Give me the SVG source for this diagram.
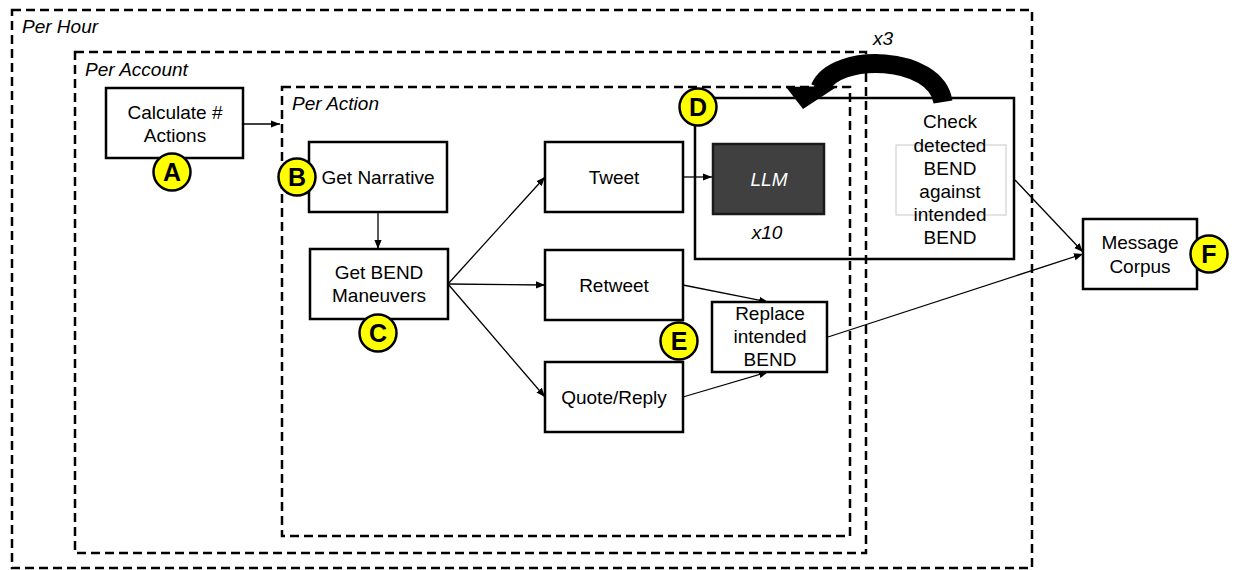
<svg xmlns="http://www.w3.org/2000/svg" width="1235" height="570" viewBox="0 0 1235 570">
<style>
.frame{fill:none;stroke:#000;stroke-width:2.5;stroke-dasharray:9 5}
.box{fill:#fff;stroke:#000;stroke-width:2.5}
.t{font-family:"Liberation Sans",Arial,sans-serif;font-size:19px;fill:#000;text-anchor:middle}
.it{font-family:"Liberation Sans",Arial,sans-serif;font-size:19px;font-style:italic;fill:#000}
.badge circle{fill:#ffff00;stroke:#000;stroke-width:2.5}
.badge text{font-family:"Liberation Sans",Arial,sans-serif;font-size:25px;font-weight:bold;fill:#000;text-anchor:middle}
.edge{fill:none;stroke:#000;stroke-width:1.3;marker-end:url(#ah)}
</style>
<defs>
<marker id="ah" viewBox="0 0 10 10" refX="10" refY="5" markerWidth="9" markerHeight="9" markerUnits="userSpaceOnUse" orient="auto">
<path d="M0,1 L10,5 L0,9 z" fill="#000"/>
</marker>
</defs>
<rect width="1235" height="570" fill="#fff"/>

<g id="frames">
<rect class="frame" x="12" y="10" width="1020" height="558"/>
<text class="it" x="22" y="33">Per Hour</text>
<rect class="frame" x="75" y="52" width="791" height="501"/>
<text class="it" x="85" y="76">Per Account</text>
<rect class="frame" x="282" y="87" width="568" height="449"/>
<text class="it" x="292" y="110">Per Action</text>
</g>

<g id="connectors">
<line class="edge" x1="243" y1="124" x2="280" y2="124"/>
<line class="edge" x1="378" y1="212" x2="378" y2="249"/>
<line class="edge" x1="448" y1="284" x2="545" y2="177"/>
<line class="edge" x1="448" y1="284" x2="545" y2="285"/>
<line class="edge" x1="448" y1="284" x2="545" y2="397"/>
<line class="edge" x1="683" y1="177" x2="712" y2="177"/>
<line class="edge" x1="683" y1="285" x2="768" y2="302"/>
<line class="edge" x1="683" y1="397" x2="768" y2="372"/>
<line class="edge" x1="1015" y1="180" x2="1083" y2="252"/>
<line class="edge" x1="828" y1="337" x2="1083" y2="254"/>
<path d="M943,102 C936,55 835,52 820,88" fill="none" stroke="#000" stroke-width="19"/>
<polygon points="786,87 838,86 803,109" fill="#000"/>
<text class="it" x="883" y="45" text-anchor="middle">x3</text>
</g>

<g id="nodeA">
<rect class="box" x="106" y="88" width="137" height="70"/>
<text class="t" x="175" y="119">Calculate #</text>
<text class="t" x="175" y="142">Actions</text>
</g>
<g id="nodeB">
<rect class="box" x="309" y="142" width="138" height="70"/>
<text class="t" x="378" y="184">Get Narrative</text>
</g>
<g id="nodeC">
<rect class="box" x="310" y="249" width="138" height="70"/>
<text class="t" x="379" y="279">Get BEND</text>
<text class="t" x="379" y="302">Maneuvers</text>
</g>
<g id="nodeTweet">
<rect class="box" x="545" y="142" width="138" height="70"/>
<text class="t" x="614" y="184">Tweet</text>
</g>
<g id="nodeRetweet">
<rect class="box" x="545" y="250" width="138" height="70"/>
<text class="t" x="614" y="292">Retweet</text>
</g>
<g id="nodeQuote">
<rect class="box" x="545" y="362" width="138" height="70"/>
<text class="t" x="614" y="404">Quote/Reply</text>
</g>
<g id="nodeD">
<rect x="695" y="98" width="319" height="161" fill="none" stroke="#000" stroke-width="2.5"/>
<rect x="713" y="144" width="111" height="70" fill="#404040" stroke="#1a1a1a" stroke-width="2.5"/>
<text class="it" x="769" y="186" text-anchor="middle" style="fill:#fff">LLM</text>
<text class="it" x="767" y="239" text-anchor="middle">x10</text>
<rect x="896" y="145" width="110" height="70" fill="none" stroke="#c8c8c8" stroke-width="1"/>
<text class="t" x="950" y="128">Check</text>
<text class="t" x="950" y="152">detected</text>
<text class="t" x="950" y="175">BEND</text>
<text class="t" x="950" y="198">against</text>
<text class="t" x="950" y="221">intended</text>
<text class="t" x="950" y="244">BEND</text>
</g>
<g id="nodeE">
<rect class="box" x="712" y="302" width="115" height="70"/>
<text class="t" x="770" y="320">Replace</text>
<text class="t" x="770" y="343">intended</text>
<text class="t" x="770" y="366">BEND</text>
</g>
<g id="nodeF">
<rect class="box" x="1083" y="219" width="114" height="70"/>
<text class="t" x="1140" y="249">Message</text>
<text class="t" x="1140" y="273">Corpus</text>
</g>

<g id="badges" class="badge">
<g id="badgeA"><circle cx="172" cy="172" r="18.5"/><text x="172" y="181">A</text></g>
<g id="badgeB"><circle cx="297" cy="177" r="18.5"/><text x="297" y="186">B</text></g>
<g id="badgeC"><circle cx="378" cy="333" r="18.5"/><text x="378" y="342">C</text></g>
<g id="badgeD"><circle cx="698" cy="107" r="18.5"/><text x="698" y="116">D</text></g>
<g id="badgeE"><circle cx="679" cy="341" r="18.5"/><text x="679" y="350">E</text></g>
<g id="badgeF"><circle cx="1209" cy="254" r="18.5"/><text x="1209" y="263">F</text></g>
</g>
</svg>
